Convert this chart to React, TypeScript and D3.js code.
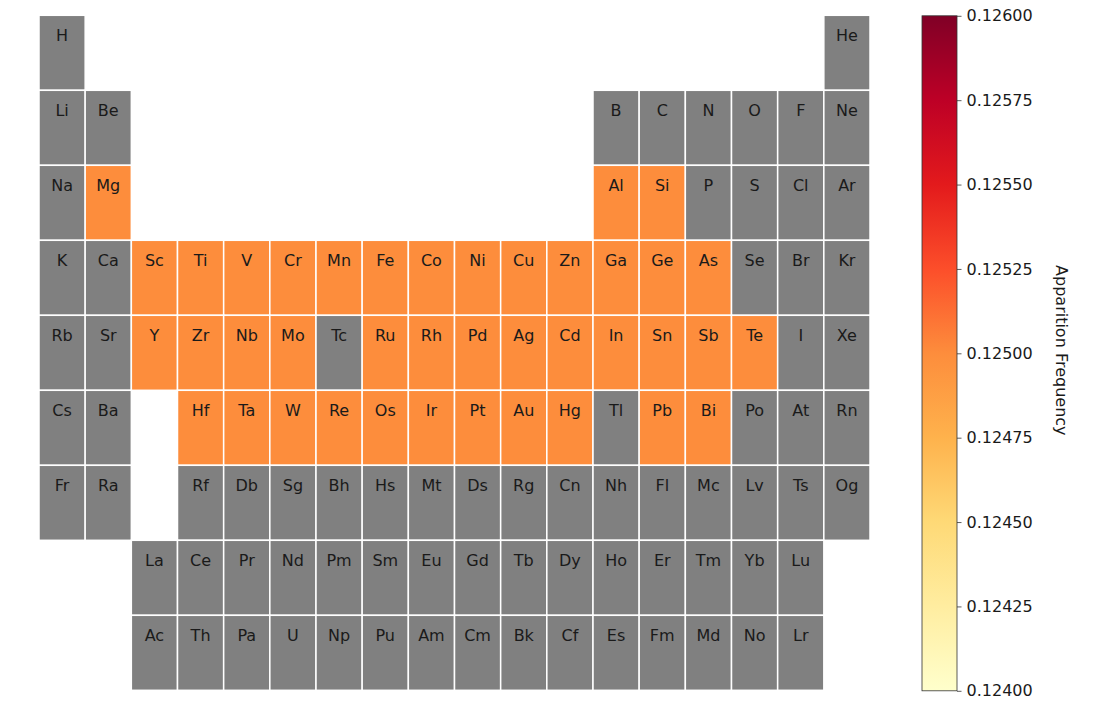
import React, { useEffect, useRef } from "react";
import * as d3 from "d3";

// periodic table layout, one string per row, empty slots left blank
const tableRows = [
  "H,,,,,,,,,,,,,,,,,He",
  "Li,Be,,,,,,,,,,,B,C,N,O,F,Ne",
  "Na,Mg,,,,,,,,,,,Al,Si,P,S,Cl,Ar",
  "K,Ca,Sc,Ti,V,Cr,Mn,Fe,Co,Ni,Cu,Zn,Ga,Ge,As,Se,Br,Kr",
  "Rb,Sr,Y,Zr,Nb,Mo,Tc,Ru,Rh,Pd,Ag,Cd,In,Sn,Sb,Te,I,Xe",
  "Cs,Ba,,Hf,Ta,W,Re,Os,Ir,Pt,Au,Hg,Tl,Pb,Bi,Po,At,Rn",
  "Fr,Ra,,Rf,Db,Sg,Bh,Hs,Mt,Ds,Rg,Cn,Nh,Fl,Mc,Lv,Ts,Og",
  ",,La,Ce,Pr,Nd,Pm,Sm,Eu,Gd,Tb,Dy,Ho,Er,Tm,Yb,Lu,",
  ",,Ac,Th,Pa,U,Np,Pu,Am,Cm,Bk,Cf,Es,Fm,Md,No,Lr,",
];

const presentElements = [
  "Mg", "Al", "Si",
  "Sc", "Ti", "V", "Cr", "Mn", "Fe", "Co", "Ni", "Cu", "Zn", "Ga", "Ge", "As",
  "Y", "Zr", "Nb", "Mo", "Ru", "Rh", "Pd", "Ag", "Cd", "In", "Sn", "Sb", "Te",
  "Hf", "Ta", "W", "Re", "Os", "Ir", "Pt", "Au", "Hg", "Pb", "Bi",
];
const frequencyValues = [
  0.125, 0.125, 0.125,
  0.125, 0.125, 0.125, 0.125, 0.125, 0.125, 0.125, 0.125, 0.125, 0.125, 0.125, 0.125, 0.125,
  0.125, 0.125, 0.125, 0.125, 0.125, 0.125, 0.125, 0.125, 0.125, 0.125, 0.125, 0.125, 0.125,
  0.125, 0.125, 0.125, 0.125, 0.125, 0.125, 0.125, 0.125, 0.125, 0.125, 0.125,
];

const colorDomain = [0.124, 0.126];
const colorTicks = [0.124, 0.12425, 0.1245, 0.12475, 0.125, 0.12525, 0.1255, 0.12575, 0.126];
const ylorrd = ["#ffffcc", "#ffeda0", "#fed976", "#feb24c", "#fd8d3c", "#fc4e2a", "#e31a1c", "#bd0026", "#800026"];

const W = 1112;
const H = 715;
const FONT = "DejaVu Sans, sans-serif";

const App = () => {
  const ref = useRef<SVGSVGElement>(null);

  useEffect(() => {
    const svg = d3.select(ref.current);
    svg.selectAll("*").remove();

    const cells: { sym: string; r: number; c: number }[] = [];
    tableRows.forEach((row, r) =>
      row.split(",").forEach((sym, c) => {
        if (sym) cells.push({ sym, r, c });
      })
    );
    const freq = new Map(presentElements.map((s, i) => [s, frequencyValues[i]]));

    const x = d3.scaleBand<number>().domain(d3.range(18)).range([39, 870]);
    const y = d3.scaleBand<number>().domain(d3.range(9)).range([15.3, 690.3]);

    const color = d3
      .scaleLinear<string>()
      .domain(ylorrd.map((_, i) => colorDomain[0] + (i / 8) * (colorDomain[1] - colorDomain[0])))
      .range(ylorrd)
      .clamp(true);

    const g = svg.append("g");
    const cell = g.selectAll("g.cell").data(cells).enter().append("g").attr("class", "cell");

    cell
      .append("rect")
      .attr("x", (d) => x(d.c)!)
      .attr("y", (d) => y(d.r)!)
      .attr("width", x.bandwidth())
      .attr("height", y.bandwidth())
      .attr("fill", (d) => (freq.has(d.sym) ? color(freq.get(d.sym)!) : "#808080"))
      .attr("stroke", "#ffffff")
      .attr("stroke-width", 1.5);

    cell
      .append("text")
      .attr("x", (d) => x(d.c)! + x.bandwidth() / 2)
      .attr("y", (d) => y(d.r)! + 25.5)
      .attr("text-anchor", "middle")
      .style("font-family", FONT)
      .style("font-size", "16px")
      .style("fill", "#1a1a1a")
      .text((d) => d.sym);

    // colorbar
    const cbX = 922;
    const cbW = 35;
    const cbTop = 15.8;
    const cbBottom = 690.8;
    const cy = d3.scaleLinear().domain(colorDomain).range([cbBottom, cbTop]);

    const defs = svg.append("defs");
    const grad = defs
      .append("linearGradient")
      .attr("id", "cbgrad")
      .attr("x1", "0")
      .attr("y1", "1")
      .attr("x2", "0")
      .attr("y2", "0");
    ylorrd.forEach((c, i) => {
      grad.append("stop").attr("offset", `${(i / 8) * 100}%`).attr("stop-color", c);
    });

    svg
      .append("rect")
      .attr("x", cbX)
      .attr("y", cbTop)
      .attr("width", cbW)
      .attr("height", cbBottom - cbTop)
      .attr("fill", "url(#cbgrad)")
      .attr("stroke", "#333")
      .attr("stroke-width", 0.8);

    const axis = svg
      .append("g")
      .attr("transform", `translate(${cbX + cbW},0)`)
      .call(
        d3
          .axisRight(cy)
          .tickValues(colorTicks)
          .tickSize(4.5)
          .tickPadding(5)
          .tickFormat(d3.format(".5f"))
      );
    axis.select(".domain").remove();
    axis.selectAll("line").attr("stroke", "#333").attr("stroke-width", 0.8);
    axis
      .selectAll("text")
      .style("font-family", FONT)
      .style("font-size", "16px")
      .style("fill", "#1a1a1a");

    svg
      .append("text")
      .attr("transform", `translate(1056,${(cbTop + cbBottom) / 2 - 3}) rotate(90)`)
      .attr("text-anchor", "middle")
      .style("font-family", FONT)
      .style("font-size", "16px")
      .style("fill", "#1a1a1a")
      .text("Apparition Frequency");
  }, []);

  return (
    <div style={{ position: "absolute", left: 0, top: 0 }}>
      <svg ref={ref} width={W} height={H} style={{ display: "block", background: "#fff" }} />
    </div>
  );
};

export default App;
